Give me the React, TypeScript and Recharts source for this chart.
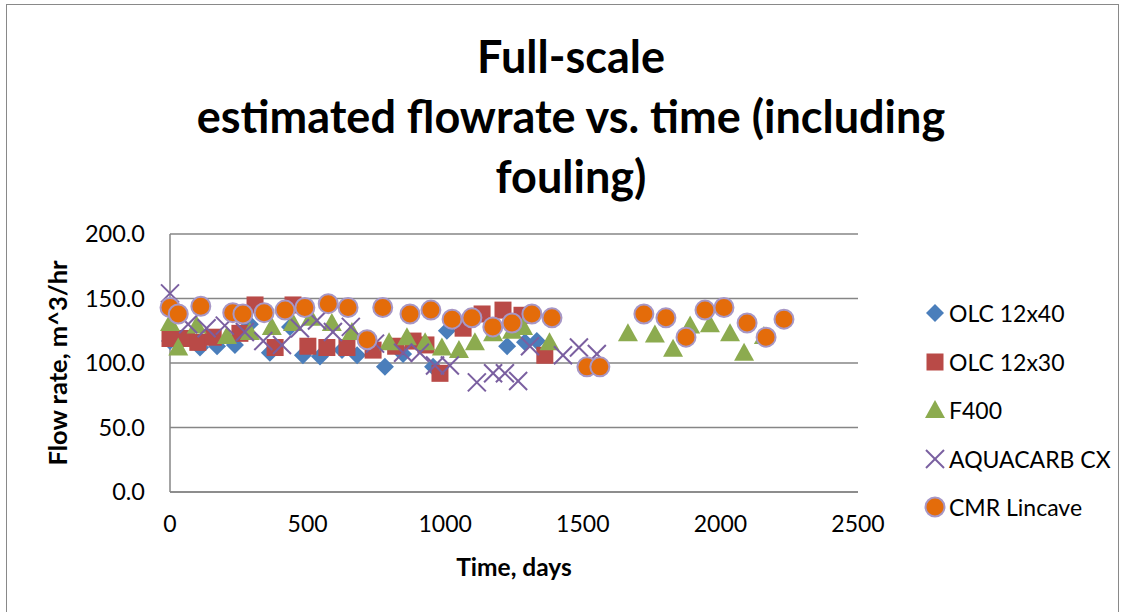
import React from 'react';
import { ScatterChart, Scatter, XAxis, YAxis, CartesianGrid, Label } from 'recharts';

// Days and flow rates (m^3/hr) per carbon
const olc1240Days = [0, 109, 171, 236, 290, 363, 436, 483, 545, 625, 680, 781, 847, 956, 1006, 1225, 1290, 1333];
const olc1240Flow = [117, 112, 113, 114, 130, 108, 128, 106, 105, 110, 106, 97, 107, 97, 125, 113, 116, 117];

const olc1230Days = [0, 60, 101, 157, 254, 309, 382, 447, 501, 570, 643, 738, 820, 883, 930, 981, 1065, 1134, 1210, 1279, 1362];
const olc1230Flow = [119, 119, 116, 120, 123, 145, 112, 145, 113, 112, 112, 110, 113, 117, 114, 92, 127, 138, 141, 137, 106];

const f400Days = [0, 30, 97, 207, 290, 370, 447, 512, 588, 661, 796, 861, 927, 988, 1050, 1108, 1174, 1243, 1283, 1379, 1664, 1762, 1828, 1890, 1962, 2035, 2086, 2158];
const f400Flow = [131, 112, 129, 121, 124, 128, 131, 135, 131, 124, 116, 120, 116, 112, 110, 116, 123, 125, 128, 116, 123, 122, 111, 129, 130, 123, 108, 121];

const aquacarbDays = [0, 66, 133, 199, 272, 339, 407, 472, 534, 592, 657, 745, 847, 908, 963, 1017, 1115, 1174, 1217, 1265, 1308, 1428, 1486, 1551];
const aquacarbFlow = [154, 130, 127, 129, 124, 117, 114, 127, 133, 124, 128, 115, 108, 108, 98, 98, 85, 92, 92, 86, 113, 106, 112, 107];

const cmrDays = [0, 30, 112, 228, 265, 342, 418, 490, 575, 647, 716, 773, 872, 948, 1025, 1097, 1173, 1243, 1315, 1388, 1515, 1562, 1722, 1802, 1875, 1944, 2013, 2097, 2166, 2231];
const cmrFlow = [143, 138, 144, 139, 138, 139, 141, 143, 146, 143, 118, 143, 138, 141, 134, 135, 128, 131, 138, 135, 97, 97, 138, 135, 120, 141, 143, 131, 120, 134];

const xTicks = [0, 500, 1000, 1500, 2000, 2500];
const yTicks = [0, 50, 100, 150, 200];

const titleLines = ['Full-scale', 'estimated flowrate vs. time (including', 'fouling)'];

const toPoints = (days: number[], flow: number[]) => days.map((d, i) => ({ day: d, flow: flow[i] }));

const FONT = 'Lato, sans-serif';
const GRID = '#868686';

type MarkerProps = { cx?: number; cy?: number };

const Diamond = ({ cx = 0, cy = 0 }: MarkerProps) => (
  <path d={`M${cx},${cy - 9}L${cx + 9},${cy}L${cx},${cy + 9}L${cx - 9},${cy}Z`} fill="#4a7ebb" />
);
const Square = ({ cx = 0, cy = 0 }: MarkerProps) => (
  <rect x={cx - 8.5} y={cy - 8.5} width={17} height={17} fill="#b94a47" />
);
const Triangle = ({ cx = 0, cy = 0 }: MarkerProps) => (
  <path d={`M${cx},${cy - 10}L${cx + 10},${cy + 8}L${cx - 10},${cy + 8}Z`} fill="#8cab4f" />
);
const Cross = ({ cx = 0, cy = 0 }: MarkerProps) => (
  <g stroke="#7a5fa0" strokeWidth={2}>
    <line x1={cx - 9} y1={cy - 9} x2={cx + 9} y2={cy + 9} />
    <line x1={cx - 9} y1={cy + 9} x2={cx + 9} y2={cy - 9} />
  </g>
);
const Dot = ({ cx = 0, cy = 0 }: MarkerProps) => (
  <circle cx={cx} cy={cy} r={9.5} fill="#e46c0a" stroke="#a797c6" strokeWidth={2} />
);

const series = [
  { name: 'OLC 12x40', data: toPoints(olc1240Days, olc1240Flow), Shape: Diamond },
  { name: 'OLC 12x30', data: toPoints(olc1230Days, olc1230Flow), Shape: Square },
  { name: 'F400', data: toPoints(f400Days, f400Flow), Shape: Triangle },
  { name: 'AQUACARB CX', data: toPoints(aquacarbDays, aquacarbFlow), Shape: Cross },
  { name: 'CMR Lincave', data: toPoints(cmrDays, cmrFlow), Shape: Dot },
];

const YTitle = ({ viewBox }: any) => {
  const cy = viewBox.y + viewBox.height / 2;
  return (
    <text x={67} y={cy} transform={`rotate(-90, 67, ${cy})`} textAnchor="middle"
      fontFamily={FONT} fontWeight="bold" fontSize={25.5} fill="#000">
      Flow rate, m^3/hr
    </text>
  );
};

const XTitle = ({ viewBox }: any) => (
  <text x={viewBox.x + viewBox.width / 2} y={576} textAnchor="middle"
    fontFamily={FONT} fontWeight="bold" fontSize={24.5} fill="#000">
    Time, days
  </text>
);

export default function App() {
  return (
    <div style={{ position: 'absolute', left: 0, top: 0, width: 1122, height: 612, background: '#fff', overflow: 'hidden' }}>
      <div style={{ position: 'absolute', left: 6, top: 4, width: 1111, height: 700, border: '1.5px solid #898989' }} />
      <div style={{ position: 'absolute', left: 0, top: 26, width: 1142, textAlign: 'center', fontFamily: FONT, fontWeight: 'bold', fontSize: 45, lineHeight: '60px', color: '#000' }}>
        {titleLines.map((t) => <div key={t}>{t}</div>)}
      </div>
      <div style={{ position: 'absolute', left: 0, top: 0 }}>
        <ScatterChart width={1122} height={612} margin={{ top: 234, right: 264, bottom: 80, left: 40 }}>
          <CartesianGrid vertical={false} stroke={GRID} strokeWidth={1.5} />
          <XAxis type="number" dataKey="day" domain={[0, 2500]} ticks={xTicks} height={40}
            axisLine={{ stroke: GRID, strokeWidth: 1.5 }} tickLine={false} tickSize={0} tickMargin={24}
            tick={{ fontSize: 23, fontFamily: FONT, fill: '#000' }}>
            <Label content={<XTitle />} />
          </XAxis>
          <YAxis type="number" dataKey="flow" domain={[0, 200]} ticks={yTicks} width={130}
            axisLine={{ stroke: GRID, strokeWidth: 1.5 }} tickLine={false} tickSize={0} tickMargin={25}
            tickFormatter={(v: number) => v.toFixed(1)}
            tick={{ fontSize: 23.5, fontFamily: FONT, fill: '#000' }}>
            <Label content={<YTitle />} />
          </YAxis>
          {series.map((s) => (
            <Scatter key={s.name} name={s.name} data={s.data} shape={<s.Shape />} isAnimationActive={false} />
          ))}
        </ScatterChart>
      </div>
      {series.map((s, i) => (
        <div key={s.name} style={{ position: 'absolute', left: 924, top: 313 + i * 48.5 - 15, height: 30, display: 'flex', alignItems: 'center' }}>
          <svg width={22} height={22} style={{ marginRight: 3 }}>
            <s.Shape cx={11} cy={11} />
          </svg>
          <span style={{ fontFamily: FONT, fontSize: 23, color: '#000', whiteSpace: 'nowrap' }}>{s.name}</span>
        </div>
      ))}
    </div>
  );
}
